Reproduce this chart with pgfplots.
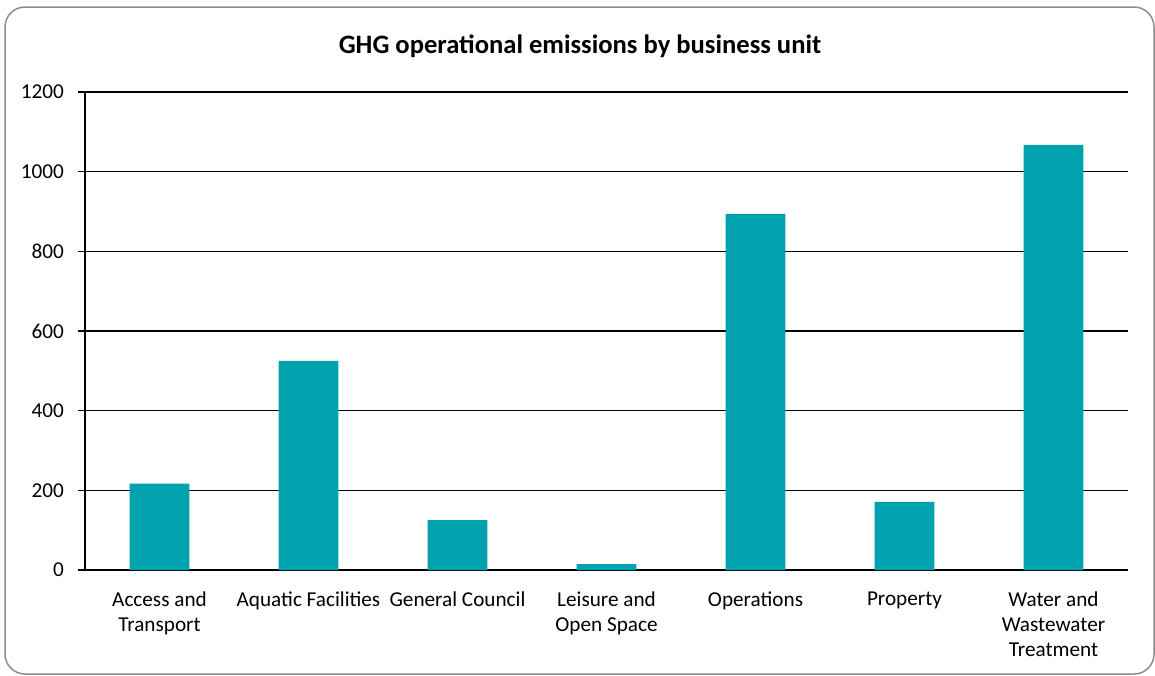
\documentclass[border=0pt]{standalone}
\usepackage{pgfplots}
\pgfplotsset{compat=1.18}
\usepackage{fontspec}
\setmainfont{Carlito}
\definecolor{barcol}{HTML}{00A2AE}
\definecolor{framecol}{HTML}{8C8C8C}
\begin{document}
\begin{tikzpicture}
\useasboundingbox (0pt,0pt) rectangle (577.5pt,-337.5pt);
\draw[framecol, line width=0.75pt, rounded corners=10pt] (2.5pt,-3.5pt) rectangle (577pt,-337pt);
\begin{axis}[
  at={(42.5pt,-285pt)}, anchor=south west,
  scale only axis, width=521.5pt, height=239pt,
  xmin=-0.5, xmax=6.5, ymin=0, ymax=1200,
  axis x line*=bottom, axis y line*=left,
  axis line style={line width=0.65pt, black, -},
  ytick={0,200,...,1200},
  xtick={0,1,2,3,4,5,6},
  xticklabels={{Access and\\Transport},{Aquatic Facilities},{General Council},{Leisure and\\Open Space},{Operations},{Property},{Water and\\Wastewater\\Treatment}},
  xtick style={draw=none},
  minor xtick={-0.5,0.5,...,6.5},
  minor tick length=3.5pt,
  major tick length=3.5pt,
  tick align=outside,
  every tick/.style={black, line width=0.65pt},
  minor tick style={black, line width=0.65pt},
  ymajorgrids,
  major grid style={black, line width=0.65pt},
  tick label style={font=\fontsize{10.6}{12.5}\selectfont},
  xticklabel style={align=center, yshift=-4pt},
  yticklabel style={xshift=-3.5pt},
  /pgf/number format/assume math mode=true,
  /pgf/number format/1000 sep={},
  title={GHG operational emissions by business unit},
  title style={font=\bfseries\fontsize{13.3}{16}\selectfont, at={(0.4746,1)}, anchor=base, yshift=13.5pt},
  ybar, bar width=0.4,
]
\addplot[fill=barcol, draw=none] coordinates {(0,217) (1,525) (2,125) (3,15) (4,894) (5,171) (6,1067)};
\end{axis}
\end{tikzpicture}
\end{document}
